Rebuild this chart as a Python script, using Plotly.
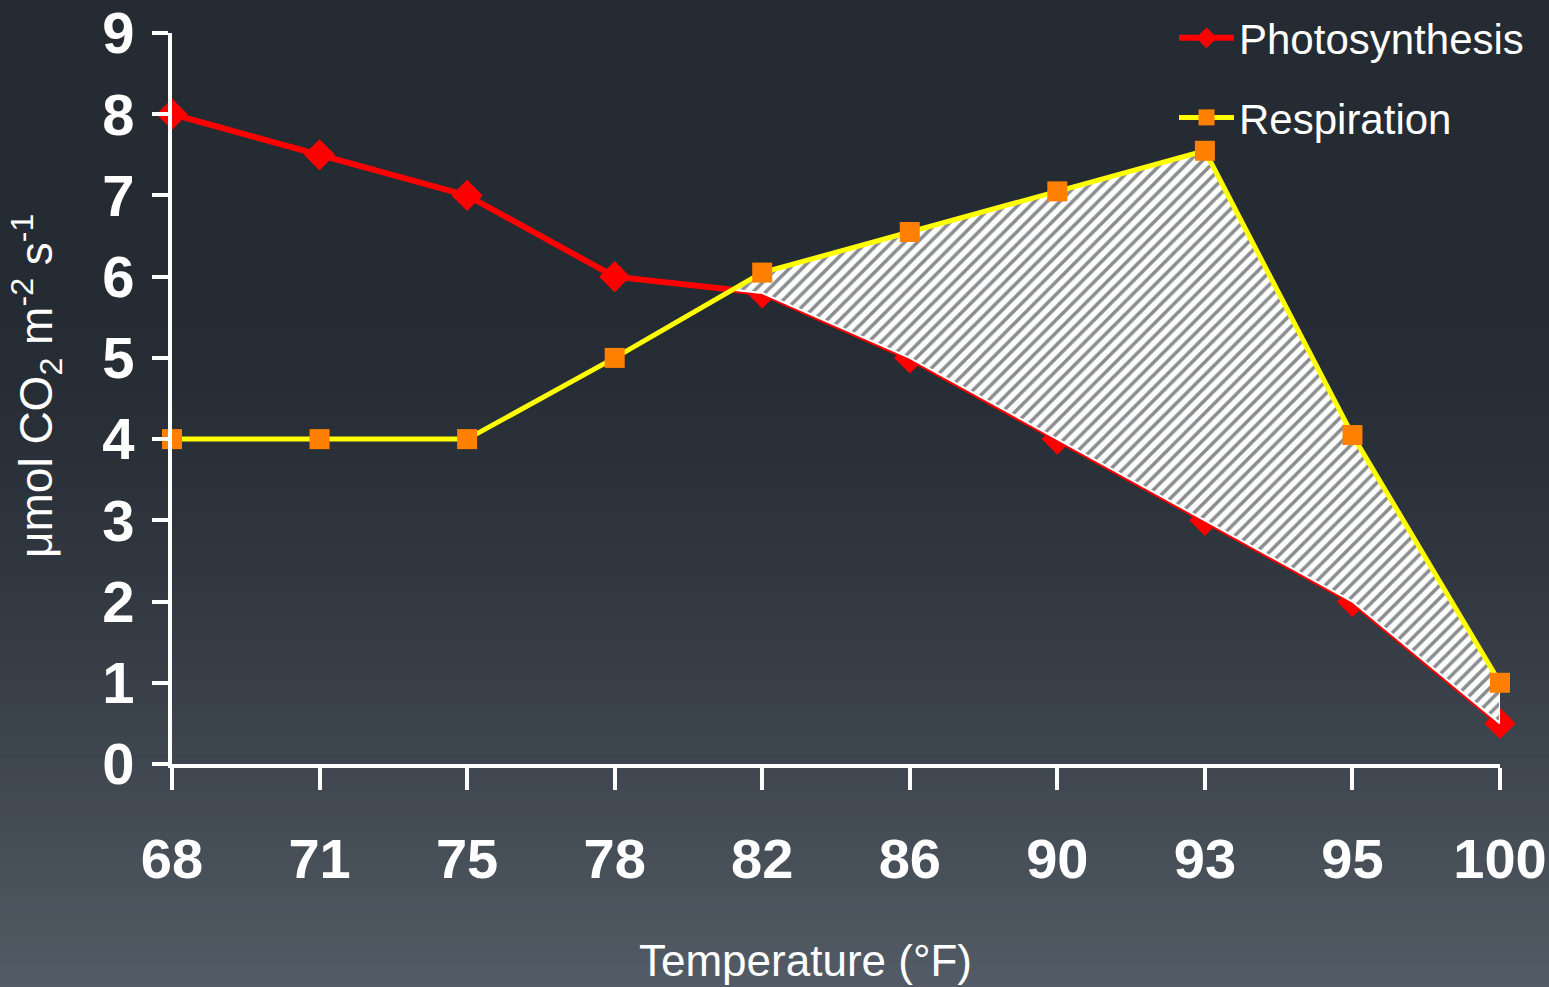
import plotly.graph_objects as go

temps = ["68", "71", "75", "78", "82", "86", "90", "93", "95", "100"]
photosynthesis = [8.0, 7.5, 7.0, 6.0, 5.8, 5.0, 4.0, 3.0, 2.0, 0.5]
respiration = [4.0, 4.0, 4.0, 5.0, 6.05, 6.55, 7.05, 7.55, 4.05, 1.0]
y_ticks = [0, 1, 2, 3, 4, 5, 6, 7, 8, 9]

xi = list(range(len(temps)))

# crossing point between index 3 and 4
d0 = photosynthesis[3] - respiration[3]
d1 = photosynthesis[4] - respiration[4]
t = d0 / (d0 - d1)
cx = 3 + t
cy = photosynthesis[3] + t * (photosynthesis[4] - photosynthesis[3])

poly_x = [cx] + xi[4:] + xi[4:][::-1] + [cx]
poly_y = [cy] + respiration[4:] + photosynthesis[4:][::-1] + [cy]

BOLD = "Liberation Sans Narrow, Arial Narrow, Liberation Sans, Arial, sans-serif"
REG = "Liberation Sans, Arial, sans-serif"

W, H = 1549, 987
L, R, T, B = 172, 49, 33, 223
PW, PH = W - L - R, H - T - B

fig = go.Figure()
fig.add_trace(go.Scatter(
    x=xi, y=photosynthesis, name="Photosynthesis", mode="lines+markers",
    legendgroup="p",
    line=dict(color="#ff0000", width=6),
    marker=dict(symbol="diamond", size=24, color="#ff0000"),
    cliponaxis=False,
))
fig.add_trace(go.Scatter(
    x=poly_x, y=poly_y, mode="lines", fill="toself", showlegend=False,
    line=dict(color="#ffffff", width=2),
    fillcolor="#ffffff",
    fillpattern=dict(shape="/", fgcolor="#181c22", bgcolor="#ffffff", size=9, solidity=0.4),
    hoverinfo="skip", cliponaxis=False,
))
fig.add_trace(go.Scatter(
    x=xi, y=respiration, name="Respiration", mode="lines+markers",
    legendgroup="r",
    line=dict(color="#ffff00", width=5),
    marker=dict(symbol="square", size=20, color="#ff8000"),
    cliponaxis=False,
))

# background gradient strips over the full figure
shapes = []
N = 120
top = (0x25, 0x2b, 0x33)
bot = (0x53, 0x5c, 0x66)
y_top = (H - B) / PH
y_bot = -B / PH
for i in range(N):
    tt = (i + 0.5) / N
    f = max(0.0, (tt - 0.3) / 0.7) ** 1.5
    c = tuple(int(round(top[k] + f * (bot[k] - top[k]))) for k in range(3))
    ya = y_top - (y_top - y_bot) * i / N
    yb = y_top - (y_top - y_bot) * (i + 1) / N
    shapes.append(dict(type="rect", xref="paper", yref="paper", layer="below",
                       x0=-L / PW - 0.01, x1=(W - L) / PW + 0.01, y0=yb - 0.002, y1=ya,
                       line=dict(width=0), fillcolor="rgb(%d,%d,%d)" % c))

fig.update_layout(
    width=W, height=H,
    margin=dict(l=L, r=R, t=T, b=B, autoexpand=False),
    paper_bgcolor="#252b33", plot_bgcolor="rgba(0,0,0,0)",
    shapes=shapes,
    showlegend=True,
    legend=dict(x=(1174 - L) / PW, y=(H - B - 4) / PH, xanchor="left", yanchor="top",
                bgcolor="rgba(0,0,0,0)", traceorder="grouped", tracegroupgap=22,
                font=dict(family=REG, size=42, color="#ffffff"),
                itemwidth=55),
    xaxis=dict(range=[0, 9], tickmode="array", tickvals=xi, ticktext=temps,
               showgrid=False, zeroline=False, showline=True, linecolor="#ffffff", linewidth=4,
               ticks="outside", ticklen=22, tickwidth=4, tickcolor="#ffffff",
               tickfont=dict(family=BOLD, size=56, color="#ffffff", weight="bold"),
               ticklabelstandoff=21),
    yaxis=dict(range=[0, 9], tickmode="array", tickvals=y_ticks,
               showgrid=False, zeroline=False, showline=True, linecolor="#ffffff", linewidth=4,
               ticks="outside", ticklen=16, tickwidth=4, tickcolor="#ffffff",
               tickfont=dict(family=BOLD, size=58, color="#ffffff", weight="bold"),
               ticklabelstandoff=6),
    annotations=[
        dict(text="Temperature (°F)", xref="paper", yref="paper",
             x=(805 - L) / PW, y=-(960 - (H - B)) / PH, xanchor="center", yanchor="middle",
             showarrow=False, font=dict(family=REG, size=44, color="#ffffff")),
        dict(text="μmol CO<sub>2</sub> m<sup>-2</sup> s<sup>-1</sup>", xref="paper", yref="paper",
             x=(36 - L) / PW, y=((H - B) - 386) / PH, xanchor="center", yanchor="middle",
             textangle=-90, showarrow=False, font=dict(family=REG, size=46, color="#ffffff")),
    ],
)

fig.write_html("out.html")
